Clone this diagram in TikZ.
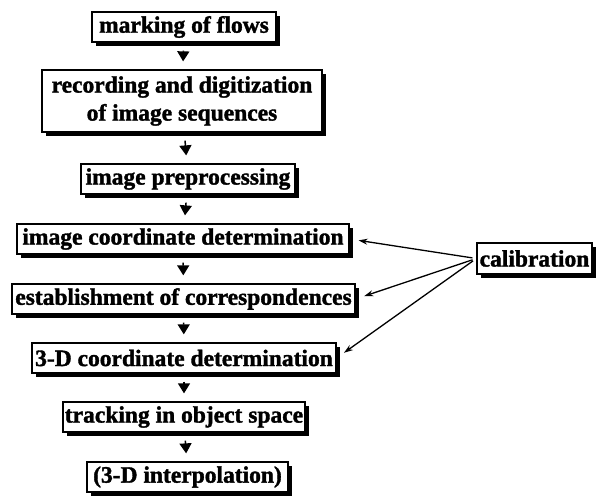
\documentclass[tikz,border=0pt]{standalone}
\usepackage{fontspec}
\setmainfont{Liberation Serif}[BoldFeatures={FakeBold=1.5}]
\usetikzlibrary{shadows,arrows.meta}
\begin{document}
\begin{tikzpicture}[x=1pt,y=-1pt,
  box/.style={draw,line width=1.3pt,fill=white,inner sep=0pt,minimum height=30pt,
    font=\fontsize{23.5}{28}\selectfont\bfseries,align=center,
    drop shadow={shadow xshift=4pt,shadow yshift=-4pt,fill=black,opacity=1}},
  flow/.style={-{Triangle[width=12pt,length=10pt]},line width=1.5pt,shorten <=8pt,shorten >=8pt},
  cal/.style={-{Stealth[length=9pt,width=6pt]},line width=1.3pt,shorten <=4pt,shorten >=9pt}]
\useasboundingbox (0,0) rectangle (597,496);
\node[box,minimum width=184pt] (m) at (184,27) {marking of flows};
\node[box,minimum width=280pt,minimum height=62pt] (r) at (182,101) {recording and digitization\\of image sequences};
\node[box,minimum width=214pt] (p) at (188,179) {image preprocessing};
\node[box,minimum width=332pt] (i) at (183,239) {image coordinate determination};
\node[box,minimum width=343pt] (e) at (183.5,299) {establishment of correspondences};
\node[box,minimum width=304pt] (d) at (184,358) {3-D coordinate determination};
\node[box,minimum width=242pt] (t) at (184,417) {tracking in object space};
\node[box,minimum width=201pt] (n) at (187.5,477) {(3-D interpolation)};
\node[box,minimum width=115pt,minimum height=31pt] (c) at (534.5,258.5) {calibration};
\draw[flow] (m) -- (r);
\draw[flow] (r) -- (p);
\draw[flow] (p) -- (i);
\draw[flow] (i) -- (e);
\draw[flow] (e) -- (d);
\draw[flow] (d) -- (t);
\draw[flow] (t) -- (n);
\draw[cal] (c.west) -- (i.east);
\draw[cal] (c.west) -- (e.east);
\draw[cal] (c.west) -- (d.east);
\end{tikzpicture}
\end{document}
